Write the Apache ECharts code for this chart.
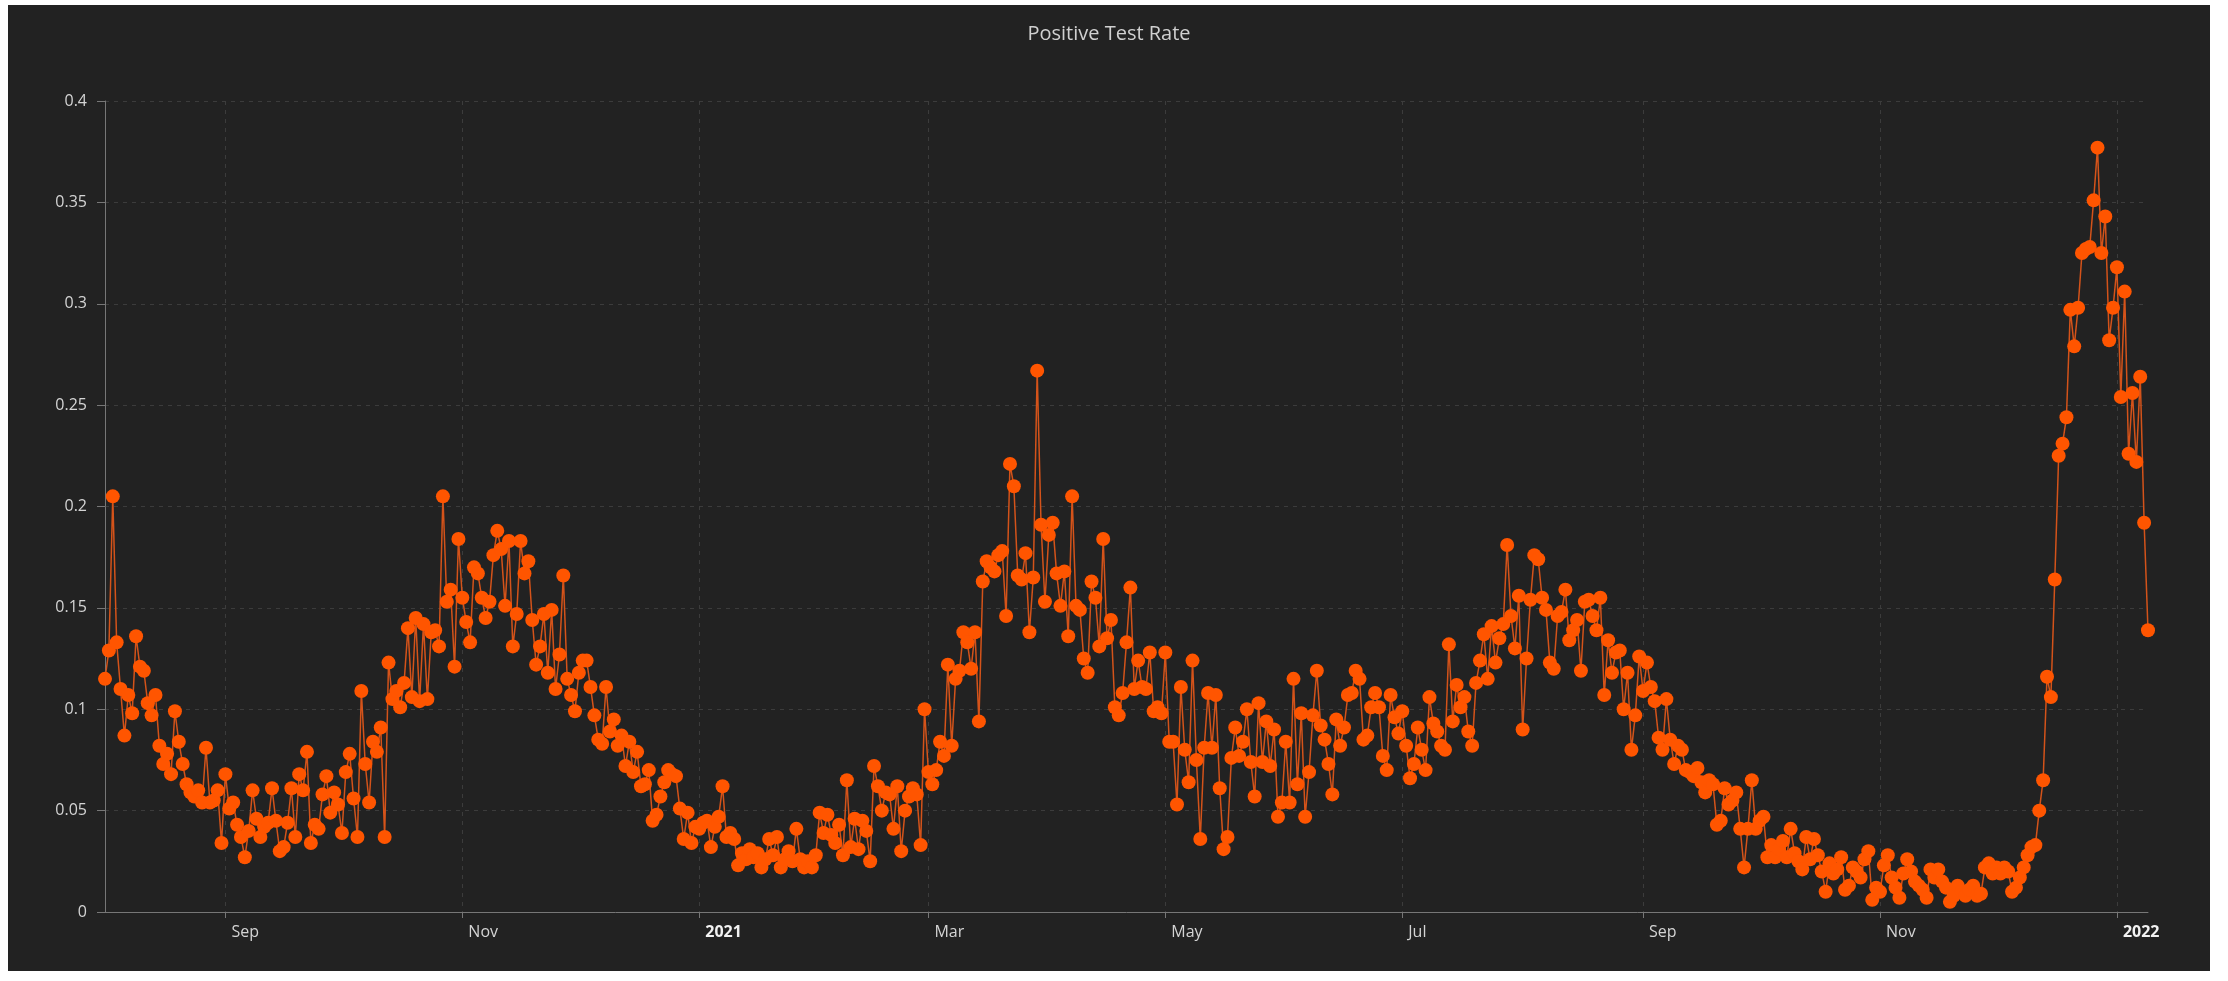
<!DOCTYPE html>
<html>
<head>
<meta charset="utf-8">
<title>Positive Test Rate</title>
<script src="https://cdn.jsdelivr.net/npm/echarts@6/dist/echarts.min.js"></script>
<style>
  html, body { margin: 0; padding: 0; background: #ffffff; }
  #frame { position: absolute; left: 8px; top: 5px; width: 2202px; height: 966px; background: #222222; }
  #chart { width: 100%; height: 100%; }
</style>
</head>
<body>
<div id="frame"><div id="chart"></div></div>
<script>
// first day of the series, one value per day after it
const startDay = '2020-08-01'

// positive test rate, one array per month
const rate2020Aug = [0.115, 0.129, 0.205, 0.133, 0.110, 0.087, 0.107, 0.098, 0.136, 0.121,
  0.119, 0.103, 0.097, 0.107, 0.082, 0.073, 0.078, 0.068, 0.099, 0.084,
  0.073, 0.063, 0.059, 0.057, 0.060, 0.054, 0.081, 0.054, 0.055, 0.060, 0.034]
const rate2020Sep = [0.068, 0.051, 0.054, 0.043, 0.037, 0.027, 0.040, 0.060, 0.046, 0.037,
  0.042, 0.044, 0.061, 0.045, 0.030, 0.032, 0.044, 0.061, 0.037, 0.068,
  0.060, 0.079, 0.034, 0.043, 0.041, 0.058, 0.067, 0.049, 0.059, 0.053]
const rate2020Oct = [0.039, 0.069, 0.078, 0.056, 0.037, 0.109, 0.073, 0.054, 0.084, 0.079,
  0.091, 0.037, 0.123, 0.105, 0.109, 0.101, 0.113, 0.140, 0.106, 0.145,
  0.104, 0.142, 0.105, 0.138, 0.139, 0.131, 0.205, 0.153, 0.159, 0.121, 0.184]
const rate2020Nov = [0.155, 0.143, 0.133, 0.170, 0.167, 0.155, 0.145, 0.153, 0.176, 0.188,
  0.179, 0.151, 0.183, 0.131, 0.147, 0.183, 0.167, 0.173, 0.144, 0.122,
  0.131, 0.147, 0.118, 0.149, 0.110, 0.127, 0.166, 0.115, 0.107, 0.099]
const rate2020Dec = [0.118, 0.124, 0.124, 0.111, 0.097, 0.085, 0.083, 0.111, 0.089, 0.095,
  0.082, 0.087, 0.072, 0.084, 0.069, 0.079, 0.062, 0.063, 0.070, 0.045,
  0.048, 0.057, 0.064, 0.070, 0.068, 0.067, 0.051, 0.036, 0.049, 0.034, 0.042]
const rate2021Jan = [0.041, 0.044, 0.045, 0.032, 0.042, 0.047, 0.062, 0.037, 0.039, 0.036,
  0.023, 0.029, 0.026, 0.031, 0.027, 0.029, 0.022, 0.026, 0.036, 0.028,
  0.037, 0.022, 0.026, 0.030, 0.025, 0.041, 0.026, 0.022, 0.025, 0.022, 0.028]
const rate2021Feb = [0.049, 0.039, 0.048, 0.038, 0.034, 0.043, 0.028, 0.065, 0.032, 0.046,
  0.031, 0.045, 0.040, 0.025, 0.072, 0.062, 0.050, 0.059, 0.058, 0.041,
  0.062, 0.030, 0.050, 0.057, 0.061, 0.058, 0.033, 0.100]
const rate2021Mar = [0.069, 0.063, 0.070, 0.084, 0.077, 0.122, 0.082, 0.115, 0.119, 0.138,
  0.133, 0.120, 0.138, 0.094, 0.163, 0.173, 0.170, 0.168, 0.176, 0.178,
  0.146, 0.221, 0.210, 0.166, 0.164, 0.177, 0.138, 0.165, 0.267, 0.191, 0.153]
const rate2021Apr = [0.186, 0.192, 0.167, 0.151, 0.168, 0.136, 0.205, 0.151, 0.149, 0.125,
  0.118, 0.163, 0.155, 0.131, 0.184, 0.135, 0.144, 0.101, 0.097, 0.108,
  0.133, 0.160, 0.110, 0.124, 0.111, 0.110, 0.128, 0.099, 0.101, 0.098]
const rate2021May = [0.128, 0.084, 0.084, 0.053, 0.111, 0.080, 0.064, 0.124, 0.075, 0.036,
  0.081, 0.108, 0.081, 0.107, 0.061, 0.031, 0.037, 0.076, 0.091, 0.077,
  0.084, 0.100, 0.074, 0.057, 0.103, 0.074, 0.094, 0.072, 0.090, 0.047, 0.054]
const rate2021Jun = [0.084, 0.054, 0.115, 0.063, 0.098, 0.047, 0.069, 0.097, 0.119, 0.092,
  0.085, 0.073, 0.058, 0.095, 0.082, 0.091, 0.107, 0.108, 0.119, 0.115,
  0.085, 0.087, 0.101, 0.108, 0.101, 0.077, 0.070, 0.107, 0.096, 0.088]
const rate2021Jul = [0.099, 0.082, 0.066, 0.073, 0.091, 0.080, 0.070, 0.106, 0.093, 0.089,
  0.082, 0.080, 0.132, 0.094, 0.112, 0.101, 0.106, 0.089, 0.082, 0.113,
  0.124, 0.137, 0.115, 0.141, 0.123, 0.135, 0.142, 0.181, 0.146, 0.130, 0.156]
const rate2021Aug = [0.090, 0.125, 0.154, 0.176, 0.174, 0.155, 0.149, 0.123, 0.120, 0.146,
  0.148, 0.159, 0.134, 0.139, 0.144, 0.119, 0.153, 0.154, 0.146, 0.139,
  0.155, 0.107, 0.134, 0.118, 0.128, 0.129, 0.100, 0.118, 0.080, 0.097, 0.126]
const rate2021Sep = [0.109, 0.123, 0.111, 0.104, 0.086, 0.080, 0.105, 0.085, 0.073, 0.082,
  0.080, 0.070, 0.069, 0.067, 0.071, 0.064, 0.059, 0.065, 0.063, 0.043,
  0.045, 0.061, 0.053, 0.055, 0.059, 0.041, 0.022, 0.041, 0.065, 0.041]
const rate2021Oct = [0.045, 0.047, 0.027, 0.033, 0.027, 0.031, 0.035, 0.027, 0.041, 0.029,
  0.025, 0.021, 0.037, 0.026, 0.036, 0.028, 0.020, 0.010, 0.024, 0.019,
  0.021, 0.027, 0.011, 0.013, 0.022, 0.020, 0.017, 0.026, 0.030, 0.006, 0.012]
const rate2021Nov = [0.010, 0.023, 0.028, 0.017, 0.012, 0.007, 0.019, 0.026, 0.020, 0.015,
  0.013, 0.011, 0.007, 0.021, 0.017, 0.021, 0.015, 0.012, 0.005, 0.008,
  0.013, 0.010, 0.008, 0.011, 0.013, 0.008, 0.009, 0.022, 0.024, 0.019]
const rate2021Dec = [0.022, 0.019, 0.022, 0.020, 0.010, 0.012, 0.017, 0.022, 0.028, 0.032,
  0.033, 0.050, 0.065, 0.116, 0.106, 0.164, 0.225, 0.231, 0.244, 0.297,
  0.279, 0.298, 0.325, 0.327, 0.328, 0.351, 0.377, 0.325, 0.343, 0.282, 0.298]
const rate2022Jan = [0.318, 0.254, 0.306, 0.226, 0.256, 0.222, 0.264, 0.192, 0.139]

const monthNames = ['Jan', 'Feb', 'Mar', 'Apr', 'May', 'Jun', 'Jul', 'Aug', 'Sep', 'Oct', 'Nov', 'Dec']
const yTicks = { min: 0, max: 0.4, step: 0.05 }

let rates = [].concat(rate2020Aug, rate2020Sep, rate2020Oct, rate2020Nov, rate2020Dec,
  rate2021Jan, rate2021Feb, rate2021Mar, rate2021Apr, rate2021May, rate2021Jun,
  rate2021Jul, rate2021Aug, rate2021Sep, rate2021Oct, rate2021Nov, rate2021Dec, rate2022Jan)

// one category per day
let days = []
let t0 = Date.parse(startDay + 'T00:00:00Z')
rates.forEach((v, i) => {
  days.push(new Date(t0 + i * 86400000).toISOString().slice(0, 10))
})

// label every second month (Jan, Mar, May ...)
function isMark(index, value) {
  let m = parseInt(value.slice(5, 7))
  return value.slice(8, 10) === '01' && m % 2 === 1
}

let myEchart = echarts.init(document.getElementById('chart'))
let options = {
  backgroundColor: '#222222',
  animation: false,
  title: {
    text: 'Positive Test Rate',
    left: 'center',
    top: 14,
    textStyle: {
      color: '#d0d0d0',
      fontSize: 20,
      fontWeight: 'normal',
      fontFamily: 'Open Sans'
    }
  },
  grid: {
    left: 97,
    right: 62,
    top: 96,
    bottom: 59
  },
  xAxis: {
    type: 'category',
    boundaryGap: false,
    data: days,
    axisLine: {
      lineStyle: { color: '#777777' }
    },
    axisTick: {
      interval: isMark,
      length: 6,
      lineStyle: { color: '#777777' }
    },
    splitLine: {
      show: true,
      interval: isMark,
      lineStyle: { color: '#3c3c3c', type: [4, 5] }
    },
    axisLabel: {
      interval: isMark,
      align: 'left',
      padding: [0, 0, 0, 6],
      margin: 12,
      color: '#d4d4d4',
      fontSize: 16,
      fontFamily: 'Open Sans',
      formatter: (value) => {
        let m = parseInt(value.slice(5, 7))
        if (m === 1) return '{yr|' + value.slice(0, 4) + '}'
        return monthNames[m - 1]
      },
      rich: {
        yr: { fontWeight: 'bold', color: '#f2f2f2', fontSize: 16, fontFamily: 'Open Sans' }
      }
    }
  },
  yAxis: {
    type: 'value',
    min: yTicks.min,
    max: yTicks.max,
    interval: yTicks.step,
    axisLine: {
      show: true,
      lineStyle: { color: '#777777' }
    },
    axisTick: {
      show: true,
      length: 8,
      lineStyle: { color: '#777777' }
    },
    splitLine: {
      lineStyle: { color: '#3c3c3c', type: [4, 5] }
    },
    axisLabel: {
      margin: 18,
      color: '#d4d4d4',
      fontSize: 16,
      fontFamily: 'Open Sans'
    }
  },
  series: [{
    name: 'Positive Test Rate',
    type: 'line',
    data: rates,
    symbol: 'circle',
    symbolSize: 14,
    showAllSymbol: true,
    lineStyle: { color: '#d4531a', width: 1.5 },
    itemStyle: { color: '#ff5500' }
  }]
}
myEchart.setOption(options)
window.addEventListener('resize', () => myEchart.resize())
</script>
</body>
</html>
